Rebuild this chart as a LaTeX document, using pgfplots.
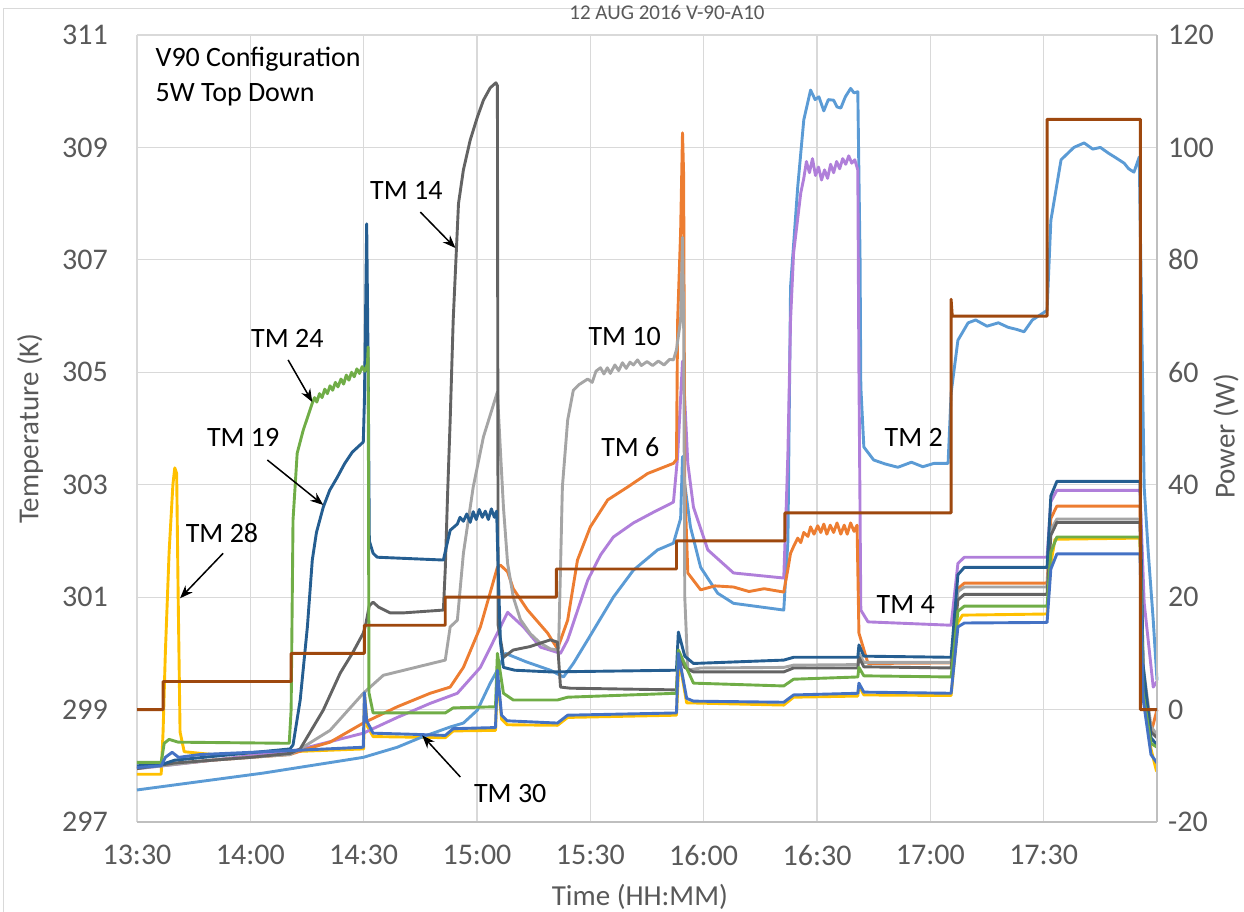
\documentclass[border=0pt]{standalone}
\usepackage{pgfplots}
\pgfplotsset{compat=1.18}
\usepackage{fontspec}
\setmainfont{Carlito}
\usetikzlibrary{arrows.meta}

\definecolor{tmtwo}{HTML}{5B9BD5}
\definecolor{tmfour}{HTML}{B07FDA}
\definecolor{tmsix}{HTML}{ED7D31}
\definecolor{tmten}{HTML}{A5A5A5}
\definecolor{tmfourteen}{HTML}{636363}
\definecolor{tmnineteen}{HTML}{255E91}
\definecolor{tmtwentyfour}{HTML}{70AD47}
\definecolor{tmtwentyeight}{HTML}{FFC000}
\definecolor{tmthirty}{HTML}{4472C4}
\definecolor{powerc}{HTML}{9E480E}
\definecolor{gridc}{HTML}{D9D9D9}
\definecolor{axisc}{HTML}{BFBFBF}
\definecolor{txtc}{HTML}{595959}

\newcommand{\bigf}{\fontsize{28}{34}\selectfont}

\begin{document}
\begin{tikzpicture}
% time axis in minutes after 13:30
\useasboundingbox (-137pt,-90pt) rectangle (1107pt,822pt);
\draw[gridc, line width=1pt] (-133pt,-95pt) -- (-133pt,813pt) -- (1115pt,813pt);

\begin{axis}[
    at={(0,0)}, anchor=south west,
    width=1020pt, height=787pt, scale only axis,
    xmin=0, xmax=270, ymin=297, ymax=311,
    xtick={0,30,...,270},
    xticklabels={13:30,14:00,14:30,15:00,15:30,16:00,16:30,17:00,17:30,},
    ytick={297,299,...,311},
    yticklabels={297,299,301,303,305,307,309,311},
    grid=major,
    major grid style={draw=gridc, line width=1.2pt},
    axis line style={draw=none},
    major tick length=0pt,
    tick label style={font=\fontsize{30}{36}\selectfont, text=txtc},
    xticklabel style={anchor=center, yshift=-33pt},
    yticklabel style={anchor=east, inner sep=0pt, xshift=-29pt},
    xlabel={Time (HH:MM)},
    ylabel={Temperature (K)},
    label style={font=\fontsize{29}{34}\selectfont, text=txtc},
    xlabel style={at={(rel axis cs:0.493,-0.0953)}, anchor=center},
    ylabel style={at={(rel axis cs:-0.1049,0.5)}, anchor=center},
    clip=false,
    every axis plot/.append style={line width=2.9pt, line join=round, no markers},
]
% bottom axis line
\draw[axisc, line width=1.4pt] (axis cs:0,297) -- (axis cs:270,297);

% TM 28
\addplot[tmtwentyeight] coordinates {
(0,297.85) (6.4,297.85) (6.9,298.6) (7.5,300.0) (8.5,301.8) (9.5,303.0) (10.0,303.3) (10.5,303.2)
(10.9,301.0) (11.4,298.6) (12.5,298.25) (20,298.2) (40.5,298.25) (60.0,298.3) (60.2,299.3) (61.0,298.7)
(62.5,298.52) (81.6,298.5) (83.7,298.62) (94.9,298.63) (95.4,299.6) (96.5,298.83) (98,298.73)
(111.3,298.72) (114,298.86) (142.8,298.9) (143.5,299.9) (145.5,299.12) (171.2,299.08) (173.8,299.22)
(190.8,299.24) (191.1,299.43) (192.4,299.26) (215.5,299.25) (217.3,300.55) (218.5,300.68)
(240.9,300.70) (241.9,301.6) (243,302.03) (265.5,302.05) (266.3,299.5) (268.4,298.3) (269.8,297.92) (270,297.9)};

% TM 2
\addplot[tmtwo] coordinates {
(0,297.57) (33.4,297.87) (59.9,298.15) (68.9,298.33) (75,298.5) (82.9,298.69) (86.4,298.76)
(90.1,298.99) (93.5,299.47) (95.4,299.7) (97.5,300.0) (103,299.85) (109.4,299.7) (112.9,299.58)
(115.5,299.82) (119.3,300.24) (126.1,301.0) (131.4,301.48) (137.8,301.84) (142.0,301.96)
(143.9,302.4) (144.4,303.5) (145.0,303.0) (146.5,302.25) (149.2,301.53) (153.7,301.07)
(157.9,300.89) (171.2,300.77) (172.3,302.0) (173.0,306.52) (174.9,308.3) (176.5,309.49)
(178.3,310.02) (179.5,309.85) (180.5,309.9) (181.8,309.65) (183,309.85) (184.4,309.84) (185.3,309.72)
(186.3,309.7) (187.5,309.9) (188.9,310.05) (189.8,309.97) (190.8,309.99) (191.4,307.0)
(191.6,304.74) (192.4,303.67) (195.0,303.44) (198,303.37) (201.4,303.31) (205,303.4) (208,303.32)
(211,303.38) (214.7,303.38) (215.5,304.63) (217.3,305.57) (220,305.88) (222,305.93) (225,305.82)
(228,305.88) (230.6,305.8) (233,305.76) (234.8,305.72) (237,305.93) (239.3,306.03) (240.9,306.1)
(241.9,307.7) (244.6,308.78) (248,309.0) (250.7,309.08) (253,308.97) (255,309.0) (257.1,308.9)
(259,308.82) (261.3,308.72) (262.5,308.62) (263.9,308.56) (265.3,308.83) (266.6,302.96)
(267.7,301.78) (269.0,300.59) (270,299.52)};

% TM 4
\addplot[tmfour] coordinates {
(0,297.95) (6.9,298.0) (20,298.1) (42.4,298.28) (59.9,298.58) (68.9,298.86) (77.6,299.11)
(84.8,299.29) (90.9,299.75) (95.4,300.36) (98.1,300.73) (102.3,300.47) (106.8,300.11) (112.1,300.0)
(114.0,300.24) (119.3,301.3) (122.7,301.75) (126.1,302.07) (131.4,302.32) (136.7,302.51)
(142.0,302.69) (143.1,303.5) (144.4,305.2) (145.0,304.5) (145.8,303.38) (147.3,302.6) (151.1,301.84)
(157.9,301.43) (171.2,301.34) (171.8,302.5) (172.3,303.56) (173.0,305.93) (173.8,307.12)
(175.7,308.19) (176.5,308.45) (177.2,308.75) (178,308.55) (178.8,308.8) (179.6,308.5) (180.4,308.65)
(181.2,308.42) (182,308.6) (182.8,308.45) (183.6,308.7) (184.4,308.55) (185.2,308.75) (186,308.62)
(186.8,308.8) (187.6,308.7) (188.4,308.85) (189.2,308.72) (190,308.78) (190.8,308.6) (191.1,305.0)
(191.6,300.77) (193.5,300.56) (215.5,300.5) (217.3,301.6) (219,301.71) (240.9,301.71) (241.9,302.7)
(243.5,302.9) (265.5,302.9) (266.6,300.9) (269.0,299.4) (270,299.5)};

% TM 6
\addplot[tmsix] coordinates {
(0,297.97) (20,298.1) (40.5,298.2) (45,298.3) (51.1,298.42) (59.9,298.76) (68.9,299.05)
(77.6,299.29) (82.9,299.4) (86.4,299.75) (90.9,300.47) (95.4,301.53) (96.2,301.57) (98.1,301.45)
(99.6,301.15) (103.4,300.77) (108.7,300.36) (111.3,300.08) (114.0,300.59) (116.6,301.66)
(120.0,302.25) (124.6,302.73) (129.9,302.96) (135.2,303.2) (142.0,303.38) (142.8,303.45)
(143.1,305.9) (143.9,307.5) (144.4,309.26) (144.7,308.5) (145.0,303.0) (145.8,301.43)
(149.2,301.13) (153,301.2) (157.9,301.18) (162,301.1) (166,301.15) (171.2,301.09) (172.3,301.5)
(173.0,301.78) (173.8,301.9) (174.9,302.05) (175.7,301.97) (176.5,302.15) (177.6,302.08) (178.3,302.25)
(179.2,302.12) (180.2,302.27) (181,302.15) (181.8,302.3) (182.6,302.12) (183.5,302.28) (184.4,302.15)
(185.3,302.32) (186.3,302.12) (187.2,302.28) (188,302.12) (188.9,302.32) (189.8,302.17) (190.6,302.28)
(191.1,300.36) (193.5,299.82) (215.5,299.83) (217.3,301.15) (219,301.25) (240.9,301.25)
(241.9,302.4) (243.5,302.62) (265.5,302.62) (266.3,299.5) (268.4,298.58) (270,299.0)};

% TM 10
\addplot[tmten] coordinates {
(0,297.95) (20,298.1) (40.5,298.2) (43.2,298.3) (51.1,298.63) (59.9,299.29) (65.2,299.61)
(73.1,299.74) (81.6,299.88) (82.9,300.47) (84.8,300.59) (86.4,301.78) (89.0,302.96) (91.7,303.85)
(95.4,304.65) (96.2,303.6) (97,302.6) (98.1,301.6) (99.6,301.0) (101.5,300.6) (104.1,300.35)
(106.8,300.18) (109.4,300.08) (111.3,300.06) (111.6,300.1) (112.1,301.5) (112.6,302.96)
(114.0,304.15) (115.5,304.68) (117,304.78) (119.3,304.88) (120.5,304.82) (121.5,305.02) (122.7,305.08)
(123.6,304.97) (124.5,305.08) (125.3,304.98) (126.5,305.13) (127.5,305.03) (128.5,305.17) (129.5,305.07)
(130.5,305.18) (131.4,305.13) (132.5,305.22) (133.5,305.12) (135,305.19) (136.5,305.12) (138,305.2)
(139.5,305.13) (141,305.23) (142.0,305.22) (142.8,305.4) (143.9,305.93) (144.4,307.4) (144.7,306.0)
(145.0,301.0) (145.8,299.7) (149.2,299.74) (171.2,299.75) (173.8,299.79) (190.8,299.8)
(191.1,300.0) (192.4,299.84) (215.5,299.84) (217.3,301.1) (219,301.18) (240.9,301.18)
(241.9,302.2) (243.5,302.39) (265.5,302.39) (266.3,299.8) (268.4,298.7) (270,298.55)};

% TM 14
\addplot[tmfourteen] coordinates {
(0,297.95) (10,298.05) (30,298.15) (40.5,298.22) (43.2,298.3) (49.3,298.99) (53.8,299.65)
(57,300.0) (59.9,300.36) (60.5,300.5) (61.5,300.85) (62.5,300.91) (64,300.82) (67,300.72)
(70.5,300.72) (81.1,300.77) (81.6,301.5) (82.2,302.8) (82.9,304.15) (83.7,305.93) (85.1,308.0)
(86.4,308.6) (88.2,309.13) (90.1,309.54) (91.7,309.84) (93.5,310.06) (95.0,310.15) (95.4,310.1)
(95.6,300.5) (97,299.93) (99.6,300.06) (104,300.12) (109.4,300.24) (111.3,300.2) (112.1,299.4)
(114.7,299.38) (142.8,299.35) (143.3,300.0) (145,299.75) (147.3,299.67) (171.2,299.67)
(173.8,299.74) (190.8,299.74) (191.1,299.93) (192.4,299.76) (215.5,299.74) (217.3,300.95)
(219,301.05) (240.9,301.05) (241.9,302.1) (243.5,302.33) (265.5,302.33) (266.3,299.7)
(268.4,298.6) (270,298.5)};

% TM 19
\addplot[tmnineteen] coordinates {
(0,298.0) (6.4,298.02) (10,298.1) (40.5,298.3) (41.3,298.37) (43.2,299.17) (45.1,300.47)
(46.4,301.66) (47.5,302.15) (49.3,302.6) (51,302.9) (53,303.13) (55,303.38) (57,303.58)
(59.9,303.76) (60.2,304.5) (60.5,306.0) (60.8,307.64) (61.2,305.0) (61.5,302.0) (62.5,301.78)
(63.6,301.71) (81.1,301.66) (82.9,302.19) (84.8,302.3) (85.5,302.42) (86.4,302.35) (87.3,302.48)
(88.2,302.33) (89,302.52) (89.8,302.38) (90.6,302.56) (91.4,302.42) (92.2,302.53) (93,302.38)
(93.8,302.57) (94.6,302.42) (95.2,302.53) (95.6,301.5) (96.2,300.2) (97,299.75) (100,299.7)
(109.4,299.67) (142.8,299.7) (143.3,300.38) (145,299.95) (147.3,299.82) (171.2,299.88)
(173.8,299.93) (190.8,299.93) (191.1,300.15) (192.4,299.95) (215.5,299.93) (217.3,301.4)
(219,301.53) (240.9,301.53) (241.9,302.8) (243.5,303.06) (265.5,303.06) (266.3,299.8)
(268.4,298.5) (270,298.37)};

% TM 24
\addplot[tmtwentyfour] coordinates {
(0,298.06) (6.4,298.06) (7.2,298.4) (8.5,298.47) (10.9,298.42) (40.3,298.4) (40.8,299.0)
(41.3,302.37) (42.4,303.56) (44.0,303.97) (46.4,304.45) (47,304.55) (47.6,304.47) (48.3,304.62)
(49,304.55) (49.7,304.7) (50.4,304.62) (51.1,304.76) (51.8,304.68) (52.5,304.82) (53.2,304.74)
(54,304.88) (54.7,304.79) (55.4,304.95) (56.1,304.86) (56.8,305.0) (57.5,304.92) (58.2,305.06)
(58.9,304.98) (59.6,305.1) (60.3,305.02) (61.0,305.15) (61.2,305.45) (61.4,299.3) (62.5,298.94)
(81.6,298.94) (83.7,299.03) (94.9,299.05) (95.4,300.0) (97,299.29) (99.6,299.17) (111.3,299.17)
(114,299.22) (142.8,299.29) (143.3,300.06) (147.3,299.47) (171.2,299.42) (173.8,299.54)
(190.8,299.58) (191.1,299.75) (192.4,299.6) (215.5,299.58) (217.3,300.75) (219,300.84)
(240.9,300.84) (241.9,301.8) (243.5,302.07) (265.5,302.07) (266.3,299.3) (268.4,298.4) (270,298.33)};

% TM 30
\addplot[tmthirty] coordinates {
(0,297.97) (6.4,298.0) (7.5,298.15) (9.3,298.24) (11,298.15) (16.7,298.2) (40.5,298.27)
(59.9,298.33) (60.2,299.3) (60.8,298.8) (62.5,298.58) (73.1,298.56) (81.6,298.54) (83.7,298.66)
(94.9,298.68) (95.4,299.7) (96.5,298.9) (98,298.8) (111.3,298.76) (114.0,298.9) (142.8,298.94)
(143.3,300.0) (145.5,299.2) (147.3,299.15) (171.2,299.13) (173.8,299.26) (190.8,299.29)
(191.1,299.47) (192.4,299.31) (215.5,299.29) (217.3,300.47) (219,300.54) (240.9,300.55)
(241.9,301.5) (243.5,301.77) (265.5,301.77) (266.3,299.2) (268.4,298.2) (270,298.05)};

% annotations
\node[font=\bigf, anchor=west] at (axis cs:4.0,310.56) {V90 Configuration};
\node[font=\bigf, anchor=west] at (axis cs:4.0,309.93) {5W Top Down};
\node[font=\bigf] at (axis cs:22.5,302.14) {TM 28};
\node[font=\bigf] at (axis cs:28.1,303.85) {TM 19};
\node[font=\bigf] at (axis cs:39.8,305.61) {TM 24};
\node[font=\bigf] at (axis cs:71.3,308.24) {TM 14};
\node[font=\bigf] at (axis cs:129.1,305.63) {TM 10};
\node[font=\bigf] at (axis cs:130.6,303.67) {TM 6};
\node[font=\bigf] at (axis cs:205.6,303.85) {TM 2};
\node[font=\bigf] at (axis cs:203.5,300.86) {TM 4};
\node[font=\bigf] at (axis cs:98.8,297.51) {TM 30};
\begin{scope}[line width=1.5pt, -{Stealth[length=13pt, width=10pt]}]
\draw (axis cs:22.8,301.78) -- (axis cs:11.4,300.98);
\draw (axis cs:34.5,303.44) -- (axis cs:49.3,302.64);
\draw (axis cs:40.0,305.22) -- (axis cs:46.4,304.47);
\draw (axis cs:75.0,307.85) -- (axis cs:84.3,307.21);
\draw (axis cs:85.6,297.8) -- (axis cs:75.5,298.54);
\end{scope}
\end{axis}

\begin{axis}[
    at={(0,0)}, anchor=south west,
    width=1020pt, height=787pt, scale only axis,
    xmin=0, xmax=270, ymin=-20, ymax=120,
    axis x line=none,
    axis y line*=right,
    y axis line style={draw=axisc, line width=1.4pt, -},
    ytick={-20,0,...,120},
    yticklabels={-20,0,20,40,60,80,100,120},
    major tick length=0pt,
    tick label style={font=\fontsize{30}{36}\selectfont, text=txtc},
    yticklabel style={anchor=west, inner sep=0pt, xshift=11pt},
    ylabel={Power (W)},
    label style={font=\fontsize{29}{34}\selectfont, text=txtc},
    ylabel style={at={(rel axis cs:1.0676,0.49)}, anchor=center},
    clip=false,
    every axis plot/.append style={line width=2.9pt, line join=round, no markers},
]
\addplot[powerc] coordinates {
(0,0) (6.9,0) (6.9,5) (40.8,5) (40.8,10) (60.2,10) (60.2,15) (81.6,15) (81.6,20) (111,20)
(111,25) (142.8,25) (142.8,30) (171.5,30) (171.5,35) (215.5,35) (215.5,73) (215.8,70) (240.9,70)
(240.9,105) (265.6,105) (265.6,0) (270,0)};
\end{axis}

% chart title
\node[font=\fontsize{21}{25}\selectfont, text=txtc, inner sep=0pt] at (530pt,810pt) {12 AUG 2016 V-90-A10};
\end{tikzpicture}
\end{document}
